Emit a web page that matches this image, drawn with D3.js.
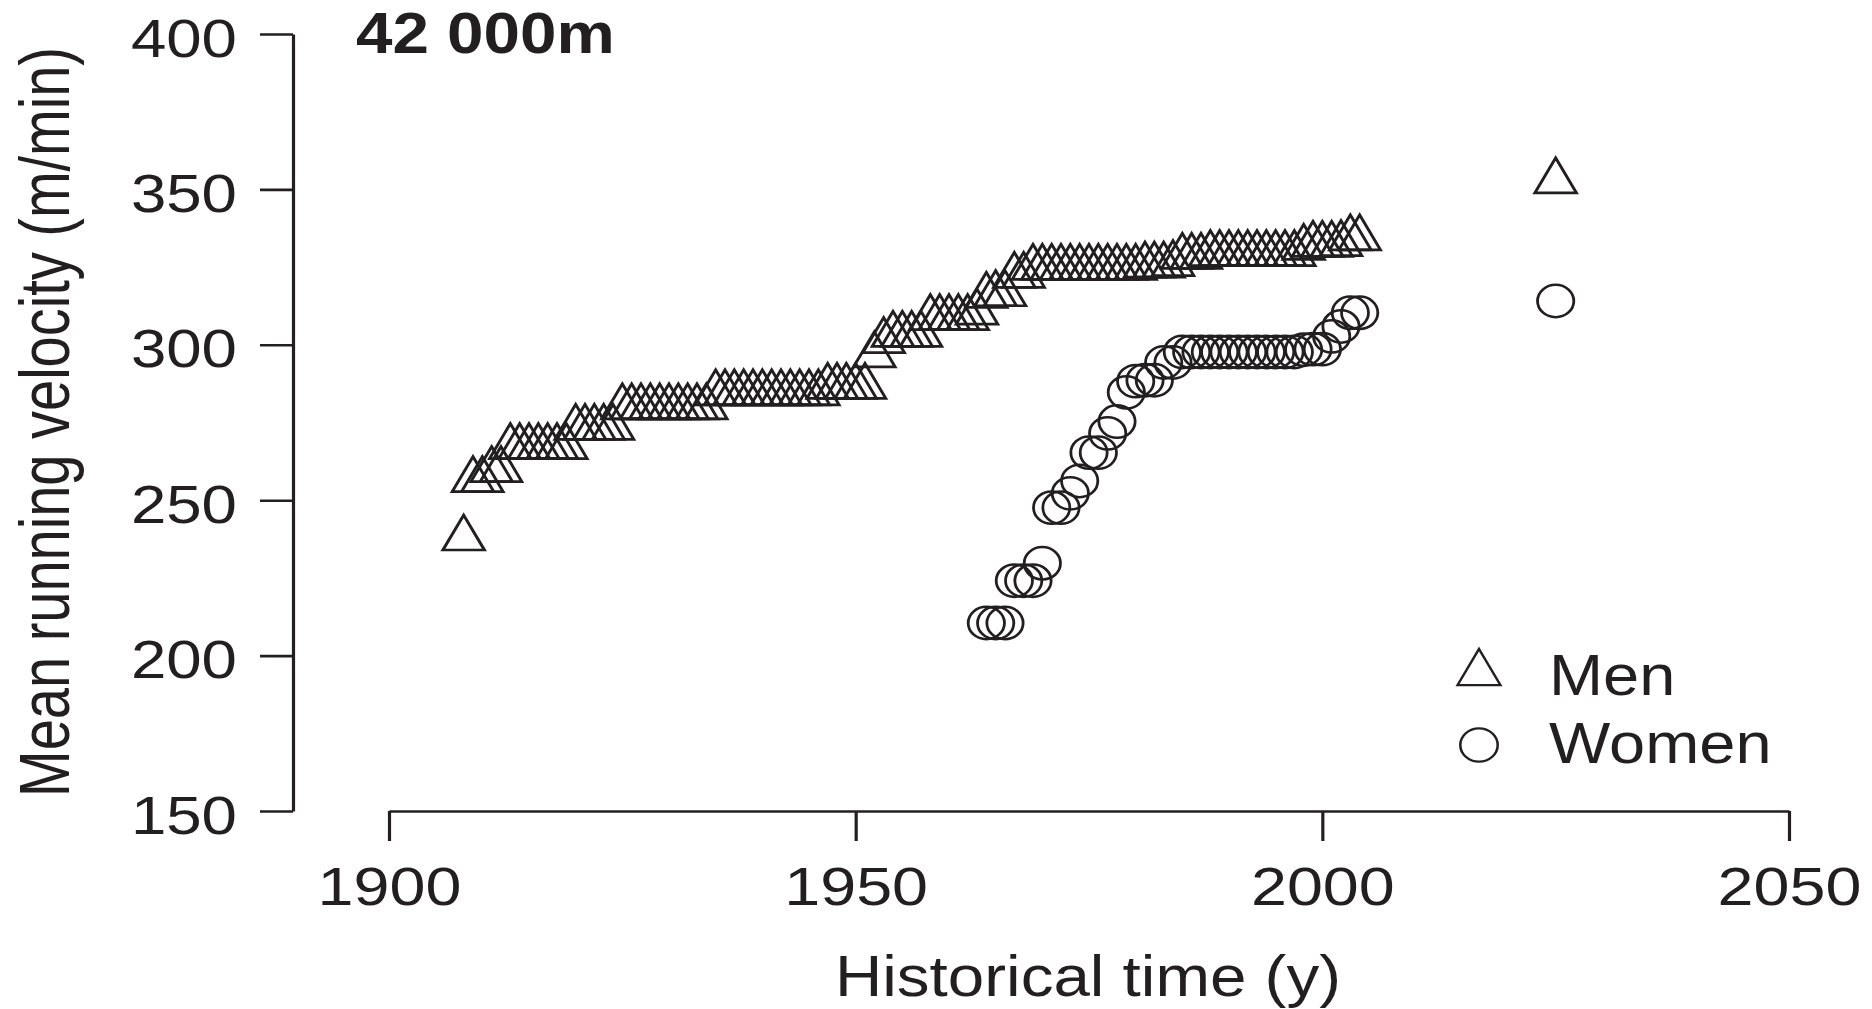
<!DOCTYPE html>
<html>
<head>
<meta charset="utf-8">
<script src="https://cdn.jsdelivr.net/npm/d3@7"></script>
<style>
  body { margin: 0; background: #fff; }
  text { font-family: "Liberation Sans", Arial, Helvetica, sans-serif; fill: #231f20; }
</style>
</head>
<body>
<div id="chart"></div>
<script>
// world record in force at the end of each year, mean velocity over 42 000 m (m/min)
var menYears = [1908, 1909, 1910, 1911, 1912, 1913, 1914, 1915, 1916, 1917, 1918, 1919,
  1920, 1921, 1922, 1923, 1924, 1925, 1926, 1927, 1928, 1929, 1930, 1931, 1932, 1933, 1934,
  1935, 1936, 1937, 1938, 1939, 1940, 1941, 1942, 1943, 1944, 1945, 1946,
  1947, 1948, 1949, 1950, 1951, 1952, 1953, 1954, 1955, 1956, 1957,
  1958, 1959, 1960, 1961, 1962, 1963, 1964, 1965, 1966, 1967, 1968,
  1969, 1970, 1971, 1972, 1973, 1974, 1975, 1976, 1977, 1978, 1979, 1980,
  1981, 1982, 1983, 1984, 1985, 1986, 1987,
  1988, 1989, 1990, 1991, 1992, 1993, 1994, 1995, 1996, 1997,
  1998, 1999, 2000, 2001, 2002, 2003, 2004, 2025];
var menVelocity = [239.6, 258.4, 258.4, 261.6, 261.6, 269.0, 269.0, 269.0, 269.0, 269.0, 269.0, 269.0,
  275.2, 275.2, 275.2, 275.2, 275.2, 281.8, 281.8, 281.8, 281.8, 281.8, 281.8, 281.8, 281.8, 281.8, 281.8,
  286.3, 286.3, 286.3, 286.3, 286.3, 286.3, 286.3, 286.3, 286.3, 286.3, 286.3, 286.3,
  288.4, 288.4, 288.4, 288.4, 288.4, 298.5, 303.1, 305.1, 305.1, 305.1, 305.1,
  310.5, 310.5, 310.5, 310.5, 310.5, 312.3, 317.7, 318.2, 318.2, 324.1, 324.1,
  326.7, 326.7, 326.7, 326.7, 326.7, 326.7, 326.7, 326.7, 326.7, 326.7, 326.7, 326.7,
  327.4, 327.4, 327.4, 327.9, 330.2, 330.2, 330.2,
  331.1, 331.1, 331.1, 331.1, 331.1, 331.1, 331.1, 331.1, 331.1, 331.1,
  333.1, 334.1, 334.1, 334.1, 334.3, 336.2, 336.2, 354.5];

var womenYears = [1964, 1965, 1966, 1967, 1968, 1969, 1970, 1971, 1972, 1973, 1974,
  1975, 1976, 1977, 1978, 1979, 1980, 1981, 1982, 1983, 1984,
  1985, 1986, 1987, 1988, 1989, 1990, 1991, 1992, 1993, 1994, 1995, 1996, 1997,
  1998, 1999, 2000, 2001, 2002, 2003, 2004, 2025];
var womenVelocity = [210.5, 210.5, 210.5, 224.1, 224.1, 224.1, 229.7, 247.6, 247.6, 252.2, 256.2,
  265.3, 265.3, 271.5, 275.3, 284.7, 288.3, 288.6, 288.6, 294.3, 294.3,
  297.7, 297.7, 297.7, 297.7, 297.7, 297.7, 297.7, 297.7, 297.7, 297.7, 297.7, 297.7, 297.7,
  298.4, 298.6, 298.6, 302.7, 305.9, 310.3, 310.3, 314.1];

var xTicks = [1900, 1950, 2000, 2050];
var yTicks = [150, 200, 250, 300, 350, 400];
var legendLabels = ["Men", "Women"];

var ink = "#231f20";
var width = 1872, height = 1009;

var svg = d3.select("#chart")
  .append("svg")
  .attr("width", width)
  .attr("height", height);

var x = d3.scaleLinear().domain([1900, 2050]).range([389, 1789]);
var y = d3.scaleLinear().domain([150, 400]).range([811, 34]);

// the source figure is stretched sideways, so text and markers get a small x scale
var sx = 1.12;

// y axis
var gy = svg.append("g")
  .attr("transform", "translate(293,0)")
  .call(d3.axisLeft(y).tickValues(yTicks).tickSize(33).tickSizeOuter(0));
gy.select(".domain").attr("stroke", ink).attr("stroke-width", 3.2);
gy.selectAll(".tick line").attr("stroke", ink).attr("stroke-width", 2.6);
gy.selectAll(".tick text")
  .attr("x", 0).attr("dy", null)
  .attr("transform", "translate(-56,22) scale(1.2,1)")
  .style("font-size", "53px");

// x axis
var gx = svg.append("g")
  .attr("transform", "translate(0,811)")
  .call(d3.axisBottom(x).tickValues(xTicks).tickSize(30).tickSizeOuter(0).tickFormat(d3.format("d")));
gx.select(".domain").attr("stroke", ink).attr("stroke-width", 2.6);
gx.selectAll(".tick line").attr("stroke", ink).attr("stroke-width", 3.2);
gx.selectAll(".tick text")
  .attr("y", 0).attr("dy", null)
  .attr("transform", "translate(0,94) scale(1.22,1)")
  .style("font-size", "53px");

// axis titles and panel title
svg.append("text")
  .attr("text-anchor", "middle")
  .attr("transform", "translate(1088,996) scale(1.13,1)")
  .style("font-size", "58px")
  .text("Historical time (y)");

svg.append("text")
  .attr("text-anchor", "middle")
  .attr("transform", "translate(69,422) scale(1.25,1) rotate(-90)")
  .style("font-size", "56px")
  .text("Mean running velocity (m/min)");

svg.append("text")
  .attr("transform", "translate(356,53) scale(1.15,1)")
  .style("font-size", "57px")
  .style("font-weight", "bold")
  .text("42 000m");

// open triangle, centred on its bounding box
var triangleType = {
  draw: function(ctx, size) {
    var h = Math.sqrt(size), w = h * 1.06;
    ctx.moveTo(0, -h / 2);
    ctx.lineTo(w / 2, h / 2);
    ctx.lineTo(-w / 2, h / 2);
    ctx.closePath();
  }
};
var triangle = d3.symbol().type(triangleType).size(35 * 35);
var circle = d3.symbol().type(d3.symbolCircle).size(Math.PI * 16.2 * 16.2);

var men = menYears.map(function(d, i) { return {year: d, v: menVelocity[i]}; });
var women = womenYears.map(function(d, i) { return {year: d, v: womenVelocity[i]}; });

svg.append("g").selectAll("path")
  .data(men)
  .enter()
  .append("path")
    .attr("d", triangle)
    .attr("transform", function(d) { return "translate(" + x(d.year) + "," + y(d.v) + ") scale(" + sx + ",1)"; })
    .attr("fill", "none")
    .attr("stroke", ink)
    .attr("stroke-width", 2.7);

svg.append("g").selectAll("path")
  .data(women)
  .enter()
  .append("path")
    .attr("d", circle)
    .attr("transform", function(d) { return "translate(" + x(d.year) + "," + y(d.v) + ") scale(" + sx + ",1)"; })
    .attr("fill", "none")
    .attr("stroke", ink)
    .attr("stroke-width", 2.5);

// legend
var legend = svg.append("g");
var legendShapes = [triangle, circle];
var legendY = [667, 745];
legendLabels.forEach(function(lab, i) {
  legend.append("path")
    .attr("d", legendShapes[i])
    .attr("transform", "translate(1479," + legendY[i] + ") scale(" + (sx * 1.03) + ",1.03)")
    .attr("fill", "none")
    .attr("stroke", ink)
    .attr("stroke-width", 2.2);
  legend.append("text")
    .attr("transform", "translate(1549," + (legendY[i] + 18 + (i === 1 ? 0 : 10)) + ") scale(1.12,1)")
    .style("font-size", "58px")
    .text(lab);
});
</script>
</body>
</html>
